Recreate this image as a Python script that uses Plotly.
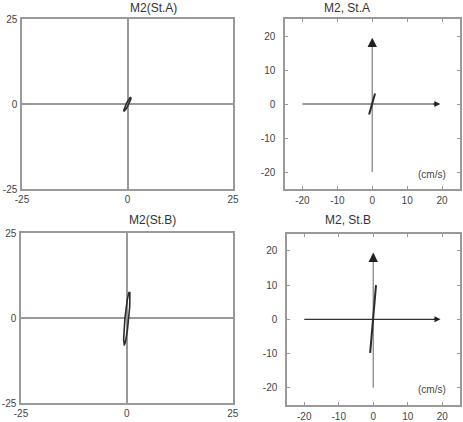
import numpy as np
import plotly.graph_objects as go

# ---- data ----
stations = ["St.A", "St.B"]
# tidal ellipse parameters (cm/s, degrees from east)
ellipse_major = [2.2, 7.8]
ellipse_minor = [0.3, 0.45]
ellipse_incl = [68, 85.5]
# current vector segment (cm/s): start / end
seg_u = [[-0.9, 0.8], [-0.9, 0.8]]
seg_v = [[-3.1, 3.1], [-9.8, 10.0]]
left_ticks = [-25, 0, 25]
left_ticktext = ["-25", "0", "25"]
right_ticks = [-20, -10, 0, 10, 20]
right_ticktext = ["-20", "-10", "0", "10", "20"]
axis_range = [-25, 25]
arrow_len = 20
unit_label = "(cm/s)"

W, H = 463, 422
fig = go.Figure()

def px(x0, x1):
    return [x0 / W, x1 / W]

def py(top, bottom):
    return [1 - bottom / H, 1 - top / H]

dom = {
    1: (px(22, 233), py(19, 189)),
    2: (px(285, 459.5), py(19, 189)),
    3: (px(21, 232.7), py(233.3, 403.3)),
    4: (px(287, 459.5), py(233.8, 404.8)),
}

tickfont = dict(family="Liberation Sans, Arial, sans-serif", size=10, color="#444")
frame = "#999"
dark = "#2b2b2b"

t = np.linspace(0, 2 * np.pi, 200)
for i, st in enumerate(stations):
    # left panel: ellipse
    n = 1 + 2 * i
    a, b, th = ellipse_major[i], ellipse_minor[i], np.deg2rad(ellipse_incl[i])
    xe = a * np.cos(t) * np.cos(th) - b * np.sin(t) * np.sin(th)
    ye = a * np.cos(t) * np.sin(th) + b * np.sin(t) * np.cos(th)
    sx = "" if n == 1 else str(n)
    fig.add_trace(go.Scatter(x=xe, y=ye, mode="lines", line=dict(color=dark, width=1.6),
                             xaxis="x" + sx, yaxis="y" + sx, showlegend=False, hoverinfo="skip"))
    # right panel
    m = 2 + 2 * i
    sm = str(m)
    fig.add_trace(go.Scatter(x=[0, 0], y=[-arrow_len, arrow_len - 2], mode="lines",
                             line=dict(color="#888", width=1.3),
                             xaxis="x" + sm, yaxis="y" + sm, showlegend=False, hoverinfo="skip"))
    fig.add_trace(go.Scatter(x=[-arrow_len, arrow_len - 1.5], y=[0, 0], mode="lines",
                             line=dict(color="#333", width=1.2),
                             xaxis="x" + sm, yaxis="y" + sm, showlegend=False, hoverinfo="skip"))
    fig.add_trace(go.Scatter(x=seg_u[i], y=seg_v[i], mode="lines",
                             line=dict(color=dark, width=2),
                             xaxis="x" + sm, yaxis="y" + sm, showlegend=False, hoverinfo="skip"))
    fig.add_annotation(x=0, y=arrow_len - 0.5, ax=0, ay=arrow_len - 3, xref="x" + sm, yref="y" + sm,
                       axref="x" + sm, ayref="y" + sm, showarrow=True, arrowhead=2, arrowsize=1.25,
                       arrowwidth=1.5, arrowcolor="#222", text="")
    fig.add_annotation(x=arrow_len - 0.5, y=0, ax=arrow_len - 3, ay=0, xref="x" + sm, yref="y" + sm,
                       axref="x" + sm, ayref="y" + sm, showarrow=True, arrowhead=2, arrowsize=1.0,
                       arrowwidth=1.2, arrowcolor="#222", text="")
    fig.add_annotation(x=17, y=-20.6, xref="x" + sm, yref="y" + sm, text=unit_label,
                       showarrow=False, font=tickfont)

titles = {1: "M2(St.A)", 2: "M2, St.A", 3: "M2(St.B)", 4: "M2, St.B"}
title_y = {1: 8, 2: 8, 3: 220, 4: 220}
for k in range(1, 5):
    xd, yd = dom[k]
    fig.add_annotation(x=(xd[0] + xd[1]) / 2, y=1 - title_y[k] / H, xref="paper", yref="paper",
                       text=titles[k], showarrow=False, yanchor="middle",
                       font=dict(family="Liberation Sans, Arial, sans-serif", size=12, color="#333"))

layout = {}
for k in range(1, 5):
    xd, yd = dom[k]
    s = "" if k == 1 else str(k)
    left = k in (1, 3)
    common = dict(range=axis_range, showgrid=False, showline=True, linecolor=frame, linewidth=1.5,
                  tickfont=tickfont, fixedrange=True, automargin=False)
    if left:
        ax = dict(common, tickvals=left_ticks, ticktext=left_ticktext, ticks="", mirror=True,
                  zeroline=True, zerolinecolor=frame, zerolinewidth=1.5)
        xa = dict(ax, ticklabelstandoff=0)
        ya = dict(ax, ticklabelstandoff=1)
    else:
        ax = dict(common, tickvals=right_ticks, ticktext=right_ticktext, ticks="inside", ticklen=3,
                  tickcolor=frame, tickwidth=1, mirror="ticks", zeroline=False)
        xa = dict(ax, ticklabelstandoff=1)
        ya = dict(ax, ticklabelstandoff=6)
    layout["xaxis" + s] = dict(xa, domain=xd, anchor="y" + s)
    layout["yaxis" + s] = dict(ya, domain=yd, anchor="x" + s)

fig.update_layout(**layout)
fig.update_layout(width=W, height=H, margin=dict(l=0, r=0, t=0, b=0),
                  paper_bgcolor="white", plot_bgcolor="white", showlegend=False)
fig.write_html("out.html")
